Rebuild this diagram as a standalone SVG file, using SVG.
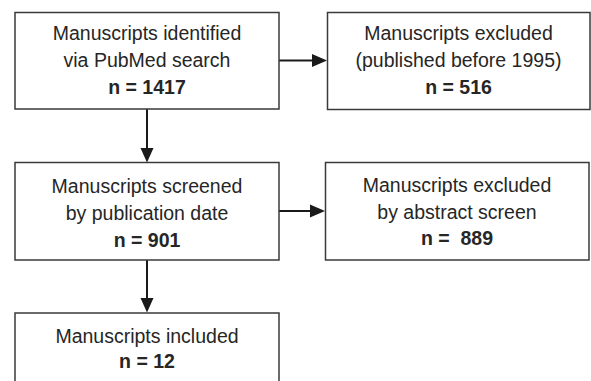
<svg xmlns="http://www.w3.org/2000/svg" width="591" height="381" viewBox="0 0 591 381">
<style>
.box{fill:#fff;stroke:#3a3a3a;stroke-width:1.5}
.t{font-family:"Liberation Sans",Arial,sans-serif;font-size:19.5px;fill:#262626;text-anchor:middle}
.b{font-weight:bold}
.c{stroke:#1a1a1a;stroke-width:2;fill:none}
</style>
<rect width="591" height="381" fill="#fff"/>
<g id="connectors">
<line class="c" x1="279" y1="60.5" x2="313" y2="60.5"/>
<path d="M312,54 L327,60.5 L312,67 Z" fill="#1a1a1a"/>
<line class="c" x1="147" y1="109" x2="147" y2="149"/>
<path d="M140.5,148 L147,162.5 L153.5,148 Z" fill="#1a1a1a"/>
<line class="c" x1="279" y1="211" x2="311" y2="211"/>
<path d="M310,204.5 L325,211 L310,217.5 Z" fill="#1a1a1a"/>
<line class="c" x1="147" y1="260" x2="147" y2="299"/>
<path d="M140.5,298 L147,312.5 L153.5,298 Z" fill="#1a1a1a"/>
</g>
<g id="n1">
<rect class="box" x="15" y="12.5" width="264" height="96.5"/>
<text class="t" x="147" y="40">Manuscripts identified</text>
<text class="t" x="147" y="67">via PubMed search</text>
<text class="t b" x="147" y="94">n = 1417</text>
</g>
<g id="n2">
<rect class="box" x="327.5" y="12.5" width="262.5" height="97"/>
<text class="t" x="458.5" y="40">Manuscripts excluded</text>
<text class="t" x="458.5" y="67">(published before 1995)</text>
<text class="t b" x="458.5" y="94">n = 516</text>
</g>
<g id="n3">
<rect class="box" x="15" y="162.5" width="264" height="97.5"/>
<text class="t" x="147" y="193">Manuscripts screened</text>
<text class="t" x="147" y="220">by publication date</text>
<text class="t b" x="147" y="247">n = 901</text>
</g>
<g id="n4">
<rect class="box" x="325.5" y="162.5" width="263.5" height="97.5"/>
<text class="t" x="457" y="192">Manuscripts excluded</text>
<text class="t" x="457" y="218.5">by abstract screen</text>
<text class="t b" x="457" y="245" xml:space="preserve">n =  889</text>
</g>
<g id="n5">
<rect class="box" x="15" y="313" width="264" height="80"/>
<text class="t" x="147" y="343">Manuscripts included</text>
<text class="t b" x="147" y="368">n = 12</text>
</g>
</svg>
